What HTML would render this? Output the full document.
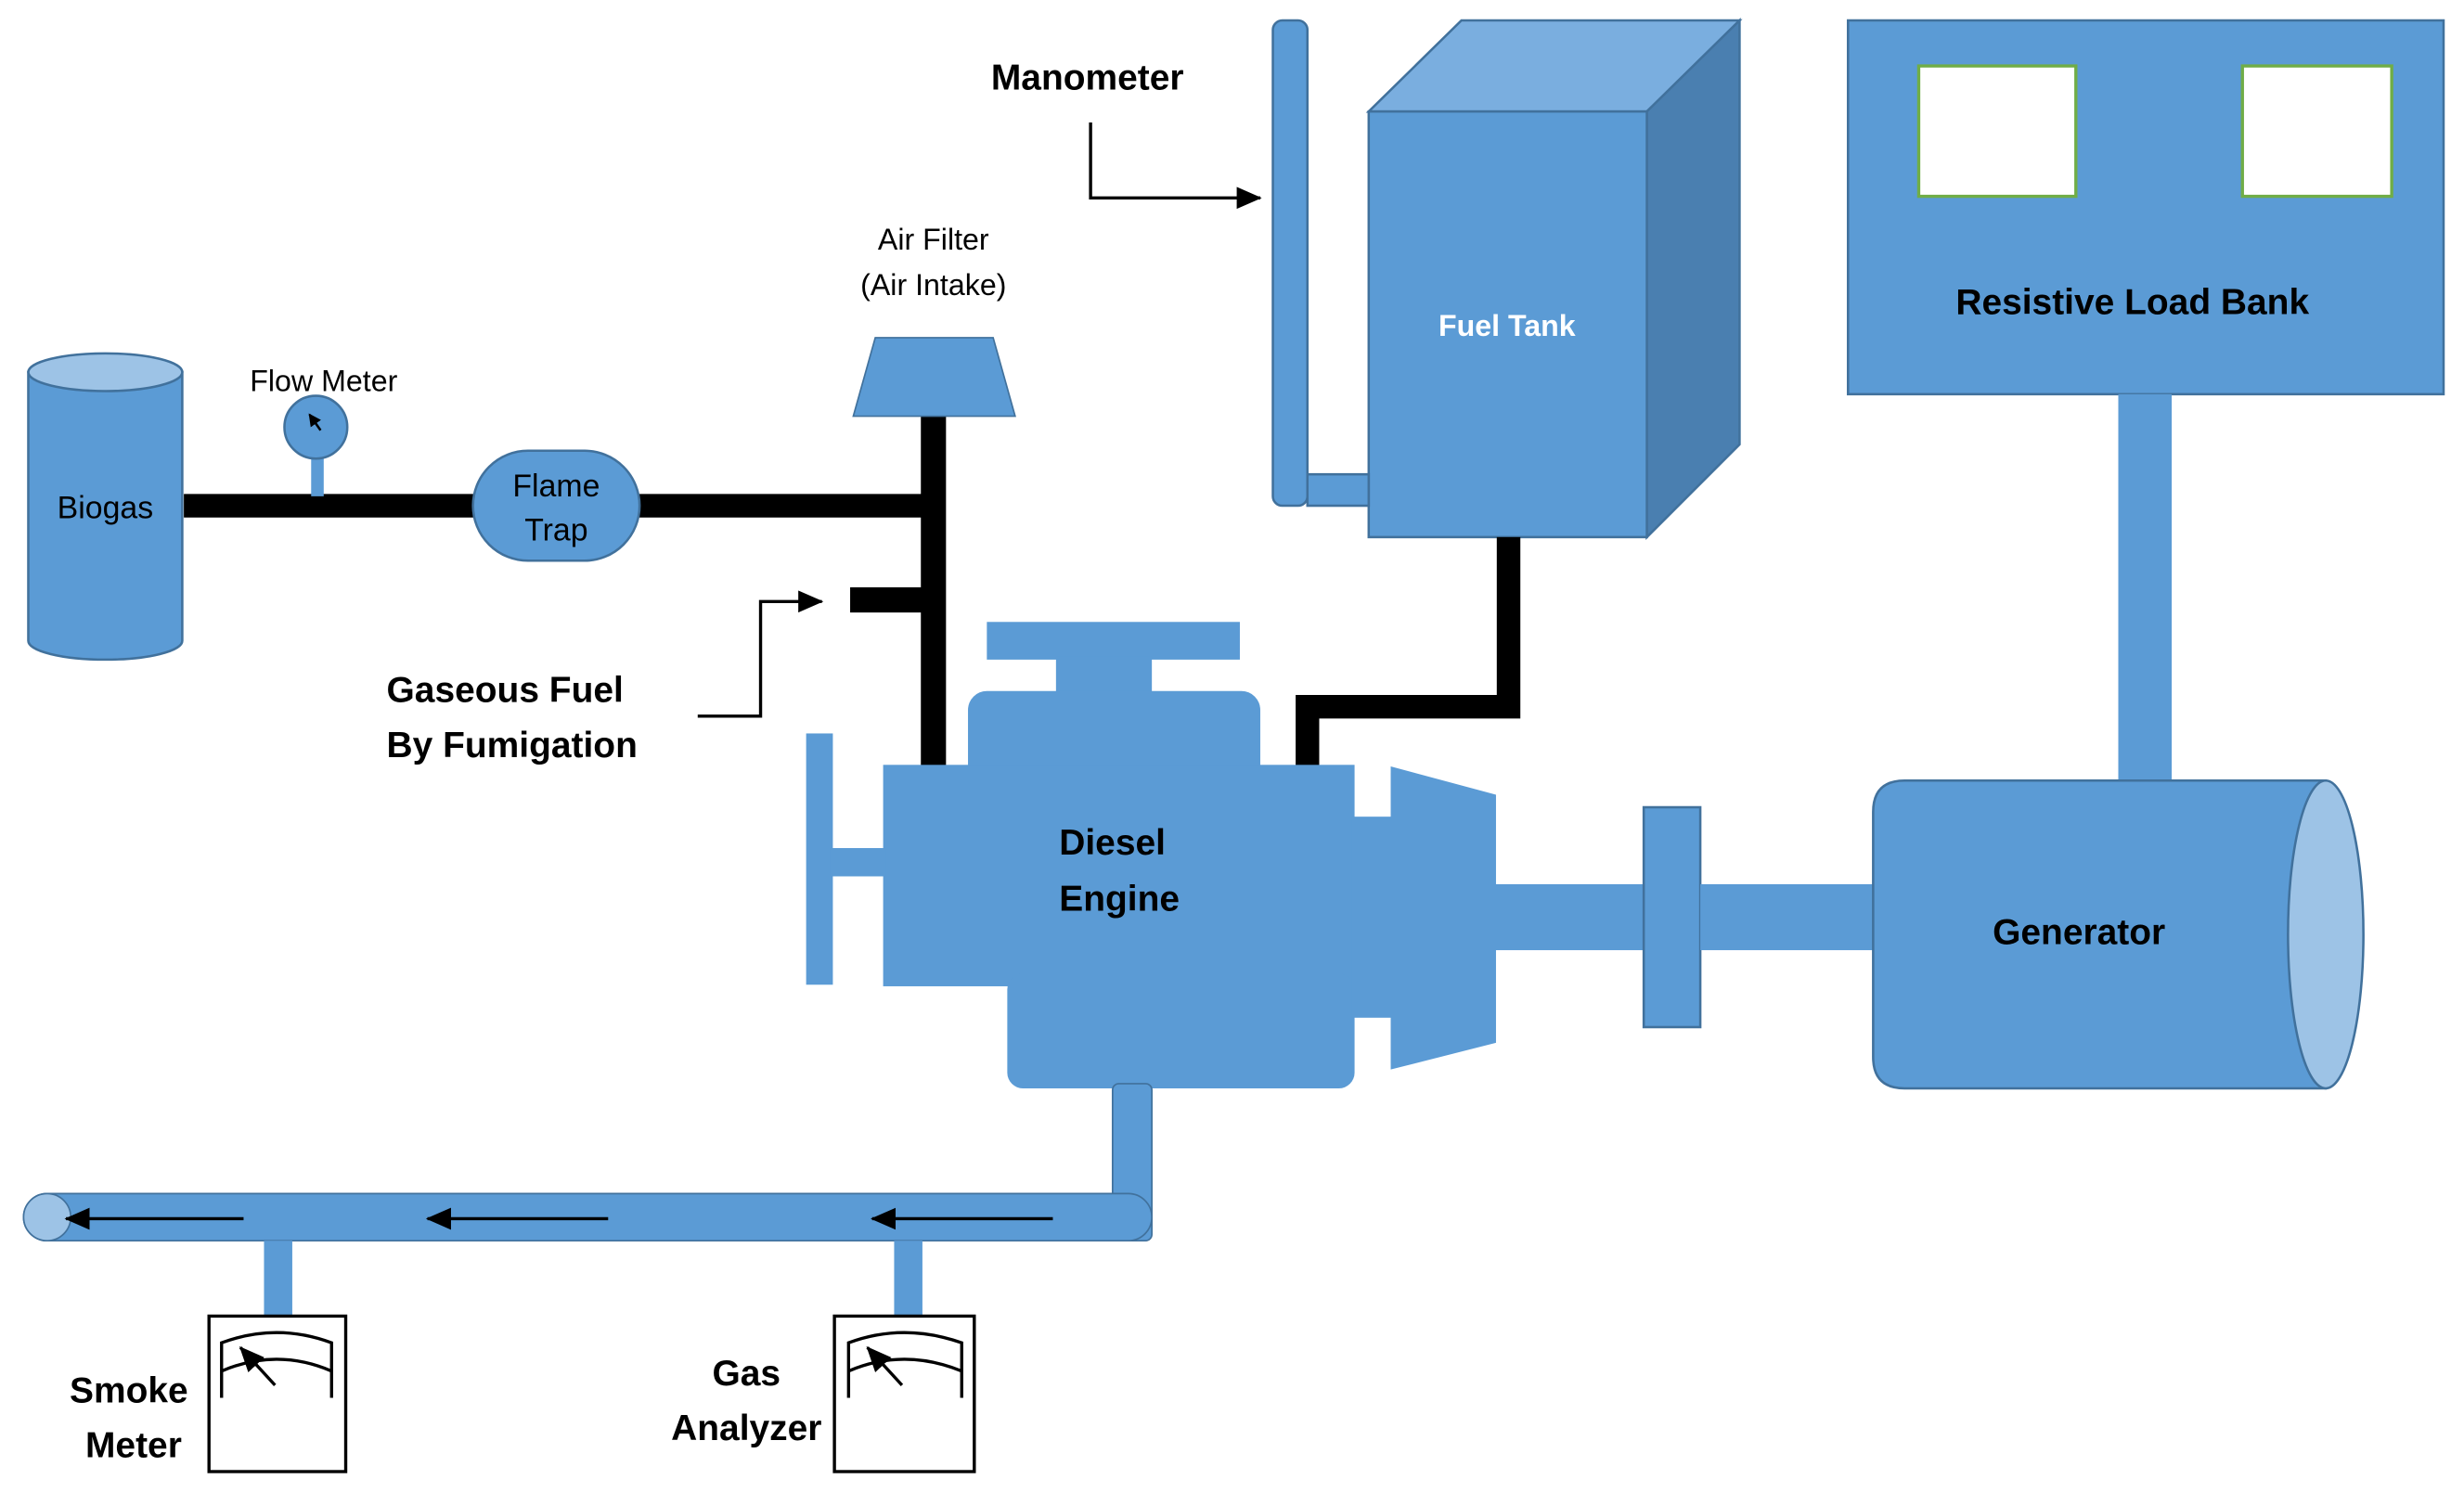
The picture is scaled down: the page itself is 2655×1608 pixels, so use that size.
<!DOCTYPE html>
<html><head><meta charset="utf-8"><style>
html,body{margin:0;padding:0;background:#fff;}
svg{display:block;}
text{font-family:"Liberation Sans",sans-serif;}
</style></head><body>
<svg width="2655" height="1608" viewBox="0 0 1568 950" preserveAspectRatio="none" xmlns="http://www.w3.org/2000/svg">
<defs>
<marker id="ah" markerWidth="8" markerHeight="8" refX="7" refY="4" orient="auto" markerUnits="userSpaceOnUse"><path d="M0,0 L8,4 L0,8 Z" fill="#000"/></marker>
<marker id="ah2" markerWidth="16" markerHeight="14" refX="15" refY="7" orient="auto" markerUnits="userSpaceOnUse"><path d="M0,0 L16,7 L0,14 Z" fill="#000"/></marker>
</defs>
<g fill="#5b9bd5">
<!-- Load bank -->
<rect x="1176" y="13" width="379" height="238" stroke="#41719c" stroke-width="1.5"/>
<rect x="1221" y="42" width="100" height="83" fill="#fff" stroke="#70ad47" stroke-width="2"/>
<rect x="1427" y="42" width="95" height="83" fill="#fff" stroke="#70ad47" stroke-width="2"/>
<rect x="1348" y="251" width="34" height="247"/>
<!-- Fuel tank -->
<polygon points="871,71 930,13 1107,13 1048,71" fill="#7aaedf" stroke="#41719c" stroke-width="1.5"/>
<polygon points="1048,71 1107,13 1107,283 1048,342" fill="#4a7fb0" stroke="#41719c" stroke-width="1.5"/>
<rect x="871" y="71" width="177" height="271" stroke="#41719c" stroke-width="1.5"/>
<rect x="810" y="13" width="22" height="309" rx="6" stroke="#41719c" stroke-width="1.5"/>
<rect x="832" y="302" width="39" height="20" stroke="#41719c" stroke-width="1.5"/>
</g>
<!-- black fuel lines -->
<g fill="none" stroke="#000" stroke-linecap="butt">
<polyline points="960,342 960,450 832,450 832,488" stroke-width="15"/>
<line x1="594" y1="265" x2="594" y2="488" stroke-width="16"/>
<line x1="117" y1="322" x2="594" y2="322" stroke-width="15"/>
<line x1="541" y1="382" x2="594" y2="382" stroke-width="16"/>
</g>
<g fill="#5b9bd5">
<!-- engine -->
<rect x="628" y="396" width="161" height="24"/>
<rect x="672" y="418" width="61" height="24"/>
<rect x="616" y="440" width="186" height="60" rx="12"/>
<rect x="562" y="487" width="300" height="141"/>
<rect x="641" y="620" width="221" height="73" rx="10"/>
<rect x="513" y="467" width="17" height="160"/>
<rect x="528" y="540" width="36" height="18"/>
<rect x="860" y="520" width="27" height="128"/>
<polygon points="885,488 952,506 952,664 885,681"/>
<rect x="950" y="563" width="98" height="42"/>
<rect x="1046" y="514" width="36" height="140" stroke="#41719c" stroke-width="1.5"/>
<rect x="1082" y="563" width="112" height="42"/>
<!-- generator -->
<path d="M1212,497 L1480,497 L1480,693 L1212,693 Q1192,693 1192,673 L1192,517 Q1192,497 1212,497 Z" stroke="#41719c" stroke-width="1.5"/>
<ellipse cx="1480" cy="595" rx="24" ry="98" fill="#9dc3e6" stroke="#41719c" stroke-width="1.5"/>
<!-- air filter -->
<polygon points="557,215 632,215 646,265 543,265" stroke="#41719c" stroke-width="1"/>
<!-- biogas -->
<path d="M18,237 L18,408 A49,12 0 0 0 116,408 L116,237 Z" stroke="#41719c" stroke-width="1.5"/>
<ellipse cx="67" cy="237" rx="49" ry="12" fill="#9dc3e6" stroke="#41719c" stroke-width="1.5"/>
<!-- flow meter -->
<rect x="198" y="290" width="8" height="26"/>
<circle cx="201" cy="272" r="20" stroke="#41719c" stroke-width="1.5"/>
<!-- flame trap -->
<rect x="301" y="287" width="106" height="70" rx="35" stroke="#41719c" stroke-width="1.5"/>
<!-- exhaust -->
<rect x="708" y="690" width="25" height="100" rx="4" stroke="#41719c" stroke-width="1"/>
<rect x="15" y="760" width="718" height="30" rx="15" stroke="#41719c" stroke-width="1"/>
<ellipse cx="30" cy="775" rx="15" ry="15" fill="#9dc3e6" stroke="#41719c" stroke-width="1"/>
<rect x="168" y="790" width="18" height="48"/>
<rect x="569" y="790" width="18" height="48"/>
</g>
<!-- exhaust arrows -->
<g stroke="#000" stroke-width="2" fill="none">
<line x1="155" y1="776" x2="42" y2="776" marker-end="url(#ah2)"/>
<line x1="387" y1="776" x2="272" y2="776" marker-end="url(#ah2)"/>
<line x1="670" y1="776" x2="555" y2="776" marker-end="url(#ah2)"/>
</g>
<!-- meters -->
<g fill="#fff" stroke="#000" stroke-width="2">
<rect x="133" y="838" width="87" height="99"/>
<rect x="531" y="838" width="89" height="99"/>
</g>
<g fill="none" stroke="#000" stroke-width="2">
<path d="M141,890 L141,855 Q176,842 211,855 L211,890 M141,873 Q176,858 211,873"/>
<line x1="175" y1="882" x2="153" y2="858" marker-end="url(#ah2)"/>
<path d="M540,890 L540,855 Q575,842 612,855 L612,890 M540,873 Q575,858 612,873"/>
<line x1="574" y1="882" x2="552" y2="858" marker-end="url(#ah2)"/>
<!-- flow meter needle -->
<line x1="204" y1="274" x2="197" y2="264" stroke-width="1.5" marker-end="url(#ah)"/>
<!-- callouts -->
<polyline points="694,78 694,126 802,126" stroke-width="2" marker-end="url(#ah2)"/>
<polyline points="444,456 484,456 484,383 523,383" stroke-width="2" marker-end="url(#ah2)"/>
</g>
<!-- text -->
<g fill="#000">
<text x="692" y="57" font-size="23" font-weight="bold" text-anchor="middle">Manometer</text>
<text x="594" y="159" font-size="19" text-anchor="middle">Air Filter</text>
<text x="594" y="188" font-size="19" text-anchor="middle">(Air Intake)</text>
<text x="206" y="249" font-size="19" text-anchor="middle">Flow Meter</text>
<text x="67" y="330" font-size="20" text-anchor="middle">Biogas</text>
<text x="354" y="316" font-size="20" text-anchor="middle">Flame</text>
<text x="354" y="344" font-size="20" text-anchor="middle">Trap</text>
<text x="246" y="447" font-size="23" font-weight="bold">Gaseous Fuel</text>
<text x="246" y="482" font-size="23" font-weight="bold">By Fumigation</text>
<text x="674" y="544" font-size="23" font-weight="bold">Diesel</text>
<text x="674" y="580" font-size="23" font-weight="bold">Engine</text>
<text x="1323" y="601" font-size="23" font-weight="bold" text-anchor="middle">Generator</text>
<text x="1357" y="200" font-size="23" font-weight="bold" text-anchor="middle">Resistive Load Bank</text>
<text x="82" y="893" font-size="23" font-weight="bold" text-anchor="middle">Smoke</text>
<text x="85" y="928" font-size="23" font-weight="bold" text-anchor="middle">Meter</text>
<text x="475" y="882" font-size="23" font-weight="bold" text-anchor="middle">Gas</text>
<text x="475" y="917" font-size="23" font-weight="bold" text-anchor="middle">Analyzer</text>
</g>
<text x="959" y="214" font-size="19" font-weight="bold" fill="#fff" text-anchor="middle">Fuel Tank</text>
</svg>
</body></html>
